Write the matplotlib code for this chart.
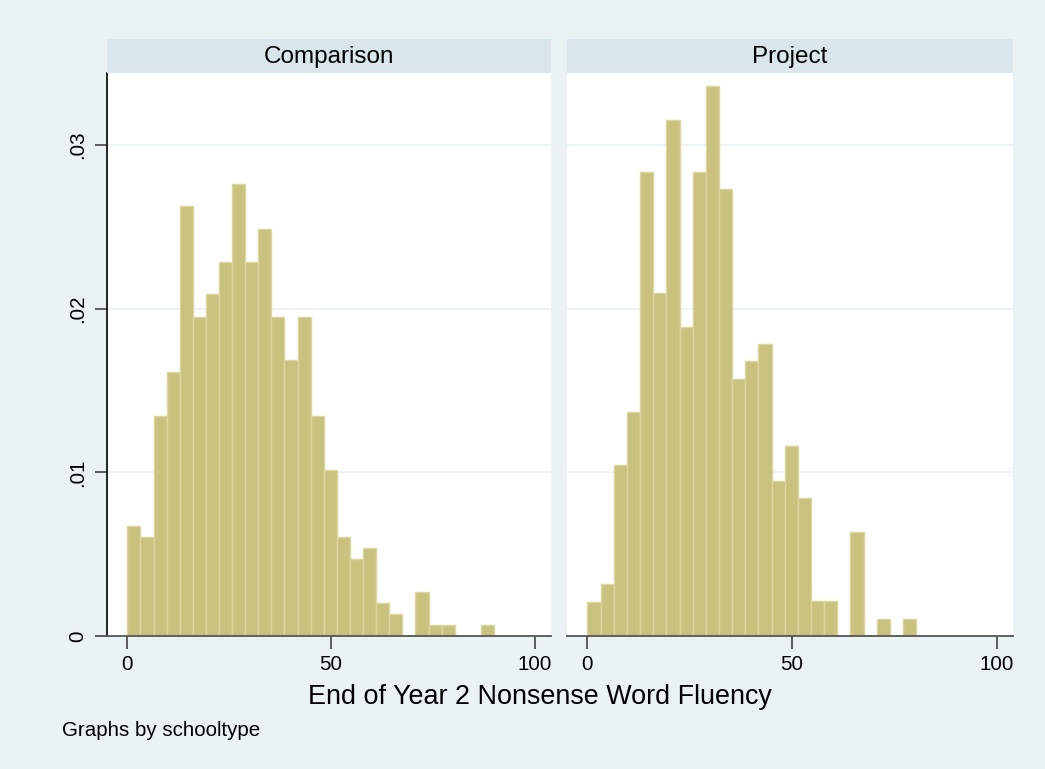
import matplotlib
matplotlib.use("Agg")
import matplotlib.pyplot as plt
import numpy as np

plt.rcParams["font.family"] = ["Liberation Sans", "DejaVu Sans"]

# histogram bins shared by both groups (28 bins over 0-90)
bin_edges = np.linspace(0, 90, 29)

groups = ["Comparison", "Project"]

# density per bin, read bin by bin
comparison_density = [0.00674, 0.00605, 0.01346, 0.01611, 0.02625, 0.01951, 0.02087,
                      0.02287, 0.02759, 0.02287, 0.02488, 0.01951, 0.01684, 0.01951,
                      0.01346, 0.01012, 0.00605, 0.00470, 0.00538, 0.00204, 0.00136,
                      0.0, 0.00267, 0.00069, 0.00069, 0.0, 0.0, 0.00069]
project_density = [0.00207, 0.00315, 0.01046, 0.01366, 0.02834, 0.02097, 0.03149,
                   0.01890, 0.02834, 0.03356, 0.02729, 0.01572, 0.01678, 0.01784,
                   0.00946, 0.01158, 0.00845, 0.00212, 0.00212, 0.0, 0.00637,
                   0.0, 0.00106, 0.0, 0.00106, 0.0, 0.0, 0.0]

x_ticks = [0, 50, 100]
y_ticks = [0, 0.01, 0.02, 0.03]
y_tick_labels = ["0", ".01", ".02", ".03"]

bg = "#EAF2F3"
strip_color = "#D9E6EB"
bar_color = "#C9C27F"
bar_edge = "#DCD69E"

W, H = 1045, 769
fig = plt.figure(figsize=(W / 100, H / 100), dpi=100, facecolor=bg)


def px_rect(x0, y0, x1, y1):
    return [x0 / W, 1 - y1 / H, (x1 - x0) / W, (y1 - y0) / H]


panels = [(107, 551, comparison_density), (567, 1013, project_density)]
for i, (x0, x1, dens) in enumerate(panels):
    ax = fig.add_axes(px_rect(x0, 72.7, x1, 636))
    ax.set_facecolor("white")
    widths = np.diff(bin_edges)
    ax.bar(bin_edges[:-1], dens, width=widths, align="edge",
           color=bar_color, edgecolor=bar_edge, linewidth=1.0, zorder=2)
    ax.set_xlim(-5, 104)
    ax.set_ylim(0, 0.0344)
    for yv in y_ticks[1:]:
        ax.axhline(yv, color=bg, lw=1.3, zorder=1)
    ax.set_xticks(x_ticks)
    ax.set_xticklabels([str(t) for t in x_ticks], fontsize=14.8)
    ax.tick_params(axis="x", length=9, width=1.2, color="#444444", pad=5)
    for s in ["top", "right"]:
        ax.spines[s].set_visible(False)
    ax.spines["bottom"].set_color("#555555")
    ax.spines["bottom"].set_linewidth(1.3)
    if i == 0:
        ax.spines["left"].set_color("black")
        ax.spines["left"].set_linewidth(1.2)
        ax.set_yticks(y_ticks)
        ax.set_yticklabels(y_tick_labels, fontsize=14.8, rotation=90, va="center")
        ax.tick_params(axis="y", length=9, width=1.2, color="#444444", pad=5)
    else:
        ax.spines["left"].set_visible(False)
        ax.set_yticks([])

    # group title strip
    sax = fig.add_axes(px_rect(x0, 39, x1, 72.7))
    sax.set_facecolor(strip_color)
    sax.set_xticks([])
    sax.set_yticks([])
    for s in sax.spines.values():
        s.set_visible(False)
    sax.text(0.5, 0.48, groups[i], ha="center", va="center", fontsize=17.5,
             transform=sax.transAxes)

fig.text(540 / W, 1 - 697 / H, "End of Year 2 Nonsense Word Fluency",
         ha="center", va="center", fontsize=19.4)
fig.text(62 / W, 1 - 731 / H, "Graphs by schooltype",
         ha="left", va="center", fontsize=14.8)

fig.savefig("out.png", dpi=100, facecolor=bg)
